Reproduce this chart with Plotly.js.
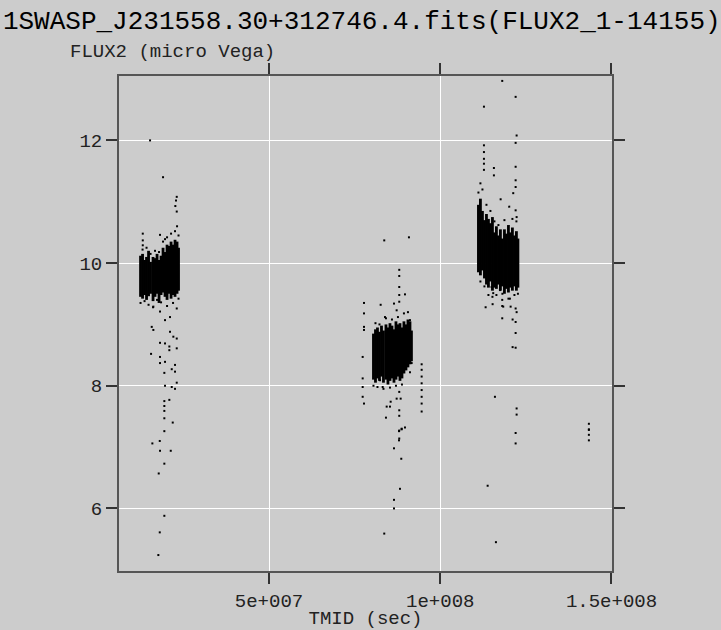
<!DOCTYPE html>
<html>
<head>
<meta charset="utf-8">
<script src="https://cdn.plot.ly/plotly-3.0.1.min.js"></script>
<style>html,body{margin:0;padding:0;background:#cccccc;}</style>
</head>
<body>
<div id="chart" style="width:721px;height:630px;"></div>
<script>
// Nightly observation streaks: time (s), lower and upper flux of the dense part
const nightTime = [
  1.249e7, 1.308e7, 1.366e7, 1.424e7, 1.483e7, 1.541e7, 1.614e7, 1.672e7, 1.731e7, 1.789e7,
  1.848e7, 1.906e7, 1.964e7, 2.023e7, 2.081e7, 2.140e7, 2.198e7, 2.256e7, 2.315e7, 2.358e7,
  8.050e7, 8.109e7, 8.167e7, 8.225e7, 8.284e7, 8.342e7, 8.415e7, 8.473e7, 8.532e7, 8.590e7,
  8.649e7, 8.707e7, 8.765e7, 8.824e7, 8.882e7, 8.940e7, 8.999e7, 9.057e7, 9.116e7, 9.159e7,
  1.1115e8, 1.1173e8, 1.1232e8, 1.1290e8, 1.1349e8, 1.1407e8, 1.1465e8, 1.1524e8, 1.1582e8, 1.1640e8,
  1.1699e8, 1.1757e8, 1.1815e8, 1.1874e8, 1.1932e8, 1.1991e8, 1.2049e8, 1.2107e8, 1.2166e8, 1.2224e8, 1.2268e8
];
const nightLow = [
  9.45, 9.42, 9.48, 9.40, 9.46, 9.50, 9.38, 9.45, 9.50, 9.35,
  9.48, 9.52, 9.45, 9.40, 9.50, 9.42, 9.48, 9.45, 9.50, 9.55,
  8.10, 8.05, 8.12, 8.08, 8.15, 8.05, 8.10, 8.02, 8.08, 8.12,
  8.05, 8.10, 8.15, 8.08, 8.12, 8.20, 8.25, 8.30, 8.35, 8.40,
  9.85, 9.80, 9.88, 9.75, 9.65, 9.60, 9.70, 9.55, 9.60, 9.58,
  9.65, 9.55, 9.62, 9.50, 9.58, 9.52, 9.60, 9.55, 9.62, 9.55, 9.60
];
const nightHigh = [
  10.12, 10.15, 10.05, 10.10, 10.20, 10.02, 10.10, 10.08, 10.15, 10.05,
  10.12, 10.25, 10.18, 10.30, 10.28, 10.35, 10.30, 10.38, 10.35, 10.25,
  8.85, 8.92, 8.95, 8.88, 8.98, 8.90, 9.00, 8.95, 9.02, 8.98,
  8.92, 9.05, 9.00, 9.02, 8.95, 9.05, 9.00, 9.08, 9.05, 8.90,
  10.95, 11.05, 10.85, 10.70, 10.80, 10.72, 10.65, 10.75, 10.50, 10.60,
  10.45, 10.55, 10.40, 10.55, 10.48, 10.62, 10.50, 10.58, 10.45, 10.52, 10.40
];

// Scattered individual measurements outside the dense streaks
const pointTime = [
  1.527e7, 1.906e7, 2.306e7, 2.285e7, 2.265e7, 2.306e7, 1.314e7, 1.314e7, 1.314e7, 1.818e7,
  1.964e7, 1.576e7, 1.623e7, 1.818e7, 1.964e7, 2.110e7, 2.207e7, 2.306e7, 2.090e7, 2.090e7,
  2.306e7, 1.556e7, 1.818e7, 1.818e7, 1.964e7, 2.160e7, 2.256e7, 2.256e7, 1.944e7, 1.964e7,
  2.110e7, 2.306e7, 1.818e7, 1.623e7, 2.306e7, 1.964e7, 2.160e7, 2.256e7, 2.090e7, 1.944e7,
  1.944e7, 1.944e7, 1.944e7, 2.189e7, 1.944e7, 1.810e7, 1.594e7, 1.818e7, 2.131e7, 1.944e7,
  1.780e7, 1.944e7, 1.810e7, 1.769e7,
  1.308e7, 1.424e7, 1.541e7, 1.672e7, 1.789e7, 1.906e7, 2.023e7, 2.140e7, 2.256e7, 2.315e7, 2.358e7,
  1.249e7, 1.366e7, 1.483e7, 1.614e7, 1.731e7, 1.848e7, 2.023e7, 2.198e7, 2.358e7,
  8.803e7, 8.803e7, 7.773e7, 7.773e7, 7.773e7, 7.773e7, 8.260e7, 8.649e7, 8.803e7, 8.803e7,
  8.970e7, 8.803e7, 8.727e7, 8.386e7, 7.735e7, 7.735e7, 7.735e7, 7.735e7, 7.773e7, 9.457e7,
  9.457e7, 9.457e7, 9.457e7, 9.457e7, 9.457e7, 9.457e7, 9.457e7, 8.803e7, 8.727e7, 8.844e7,
  8.552e7, 8.436e7, 8.532e7, 8.803e7, 8.415e7, 8.803e7, 8.873e7, 8.803e7, 8.803e7, 9.116e7,
  9.136e7, 9.165e7, 8.319e7, 8.240e7, 8.970e7, 8.873e7, 8.795e7, 8.795e7, 8.649e7, 8.862e7,
  8.824e7, 8.649e7, 8.649e7, 8.365e7, 8.365e7, 9.086e7,
  8.109e7, 8.225e7, 8.415e7, 8.590e7, 8.765e7, 8.940e7, 9.057e7,
  8.050e7, 8.167e7, 8.342e7, 8.532e7, 8.707e7, 8.882e7, 9.116e7,
  1.1810e8, 1.2201e8, 1.1276e8, 1.2230e8, 1.2201e8, 1.1276e8, 1.1276e8, 1.1276e8, 1.1276e8, 1.1276e8,
  1.1567e8, 1.1567e8, 1.2201e8, 1.2201e8, 1.2201e8, 1.2131e8, 1.1763e8, 1.2014e8, 1.2201e8, 1.2230e8,
  1.1173e8, 1.1232e8, 1.1115e8,
  1.1500e8, 1.1547e8, 1.1743e8, 1.1810e8, 1.1325e8, 1.2055e8, 1.1839e8, 1.2201e8, 1.2034e8, 1.1529e8,
  1.1810e8, 1.2230e8, 1.1810e8, 1.2113e8, 1.2201e8, 1.2201e8, 1.2113e8, 1.2201e8, 1.1597e8, 1.2230e8,
  1.2230e8, 1.2201e8, 1.2201e8, 1.1384e8, 1.1626e8,
  1.1173e8, 1.1290e8, 1.1407e8, 1.1524e8, 1.1640e8, 1.1815e8, 1.1991e8, 1.2166e8, 1.2268e8,
  1.1349e8, 1.1465e8, 1.1582e8, 1.1699e8, 1.1874e8, 1.2107e8, 1.2224e8,
  1.4340e8, 1.4340e8, 1.4340e8, 1.4340e8, 1.4340e8
];
const pointFlux = [
  12.00, 11.40, 11.08, 11.02, 10.93, 10.84, 10.48, 10.37, 10.29, 10.46,
  10.39, 8.96, 8.91, 8.70, 8.69, 8.88, 8.80, 8.77, 8.64, 8.58,
  8.61, 8.52, 8.47, 8.37, 8.39, 8.27, 8.34, 8.23, 8.21, 9.07,
  9.12, 9.26, 9.21, 9.29, 8.05, 8.00, 7.98, 7.95, 7.77, 7.75,
  7.67, 7.59, 7.47, 7.40, 7.26, 7.10, 7.06, 6.94, 6.94, 6.73,
  6.57, 5.88, 5.61, 5.24,
  10.22, 10.25, 10.15, 10.20, 10.18, 10.35, 10.42, 10.48, 10.52, 10.60, 10.45,
  9.35, 9.38, 9.32, 9.28, 9.40, 9.36, 9.30, 9.35, 9.42,
  9.89, 9.79, 9.35, 9.18, 8.96, 8.91, 9.32, 9.34, 9.61, 9.48,
  9.49, 9.37, 9.23, 9.12, 8.47, 8.12, 7.98, 7.82, 7.71, 8.35,
  8.26, 8.15, 8.04, 7.93, 7.82, 7.71, 7.58, 7.90, 7.79, 7.79,
  7.74, 7.66, 7.66, 7.60, 7.48, 7.51, 7.30, 7.27, 7.14, 9.07,
  8.64, 8.37, 7.98, 8.09, 7.32, 7.29, 7.26, 7.11, 6.98, 6.81,
  6.32, 6.14, 6.00, 5.59, 10.37, 10.42,
  9.02, 9.00, 9.10, 9.08, 9.12, 9.18, 9.20,
  8.00, 7.98, 7.95, 7.97, 8.00, 8.02, 8.22,
  12.97, 12.71, 12.55, 12.08, 11.96, 11.92, 11.81, 11.70, 11.62, 11.52,
  11.55, 11.43, 11.57, 11.35, 11.24, 11.14, 11.04, 10.92, 10.86, 10.75,
  11.30, 11.20, 11.15,
  9.61, 9.51, 9.56, 9.40, 9.28, 9.29, 9.29, 9.26, 9.42, 9.33,
  9.30, 9.20, 9.10, 9.08, 9.04, 8.86, 8.63, 8.62, 7.82, 7.63,
  7.53, 7.23, 7.06, 6.37, 5.45,
  9.70, 9.62, 9.48, 9.45, 9.48, 9.50, 9.42, 9.48, 9.50,
  10.95, 10.85, 10.68, 10.62, 10.70, 10.72, 10.68,
  7.38, 7.29, 7.28, 7.20, 7.11
];

const xTickValues = [5e7, 1e8, 1.5e8];
const xTickLabels = ['5e+007', '1e+008', '1.5e+008'];
const yTickValues = [6, 8, 10, 12];
const yTickLabels = ['6', '8', '10', '12'];

const chartTitle = '1SWASP_J231558.30+312746.4.fits(FLUX2_1-14155)';
const xTitle = 'TMID (sec)';
const yTitle = 'FLUX2 (micro Vega)';

// build streak segments
const segX = [], segY = [];
for (let i = 0; i < nightTime.length; i++) {
  segX.push(nightTime[i], nightTime[i], null);
  segY.push(nightLow[i], nightHigh[i], null);
}

const mono = '"Courier New", "Liberation Mono", monospace';

const traces = [
  {
    type: 'scatter', mode: 'lines', x: segX, y: segY,
    line: {color: '#000000', width: 2.8}, hoverinfo: 'skip', connectgaps: false
  },
  {
    type: 'scatter', mode: 'markers', x: pointTime, y: pointFlux,
    marker: {color: '#000000', size: 2, symbol: 'square', line: {width: 0}}
  }
];

const axisCommon = {
  ticks: 'outside', ticklen: 11, tickwidth: 2, tickcolor: '#333333',
  showline: true, linecolor: '#555555', linewidth: 2, mirror: 'ticks',
  showgrid: true, gridcolor: '#ffffff', gridwidth: 1, zeroline: false,
  tickfont: {family: mono, size: 19, color: '#222222'},
  fixedrange: true
};

const layout = {
  width: 721, height: 630,
  paper_bgcolor: '#cccccc', plot_bgcolor: '#cccccc',
  margin: {l: 119, r: 109, t: 76, b: 59},
  showlegend: false,
  font: {family: mono, size: 19, color: '#222222'},
  title: {
    text: chartTitle, x: 0.004, xanchor: 'left', y: 0.968, yanchor: 'middle',
    font: {family: mono, size: 26, color: '#000000'}
  },
  xaxis: Object.assign({}, axisCommon, {
    range: [6.2e6, 1.5015e8], tickmode: 'array', tickvals: xTickValues, ticktext: xTickLabels,
    title: {text: xTitle, font: {family: mono, size: 19, color: '#222222'}, standoff: 2}
  }),
  yaxis: Object.assign({}, axisCommon, {
    range: [4.98, 13.05], tickmode: 'array', tickvals: yTickValues, ticktext: yTickLabels
  }),
  annotations: [{
    text: yTitle, xref: 'paper', yref: 'paper', x: -0.103, y: 1.048,
    xanchor: 'left', yanchor: 'middle', showarrow: false,
    font: {family: mono, size: 19, color: '#222222'}
  }]
};

Plotly.newPlot('chart', traces, layout, {displayModeBar: false, staticPlot: true});
</script>
</body>
</html>
